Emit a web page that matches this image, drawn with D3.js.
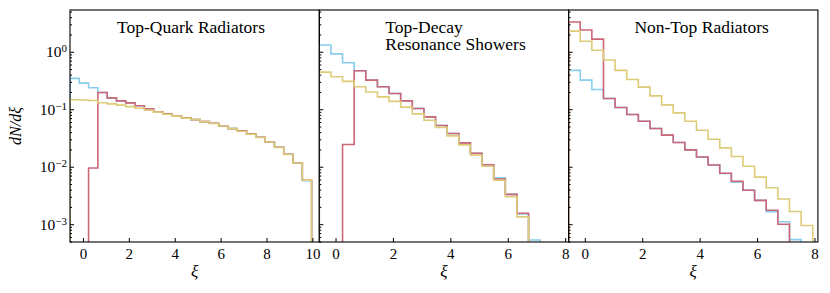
<!DOCTYPE html>
<html>
<head>
<meta charset="utf-8">
<script src="https://cdn.jsdelivr.net/npm/d3@7"></script>
<style>
  body { margin: 0; background: #fff; }
</style>
</head>
<body>
<div id="chart"></div>
<script>
(function () {

  // bin edges for xi (same binning in every panel)
  const binEdges = [-0.565, -0.16, 0.245, 0.65, 1.055, 1.46, 1.865, 2.27, 2.675, 3.08,
    3.485, 3.89, 4.295, 4.7, 5.105, 5.51, 5.915, 6.32, 6.725, 7.13,
    7.535, 7.94, 8.345, 8.75, 9.155, 9.56, 9.965]

  const panelTitles = [['Top-Quark Radiators'], ['Top-Decay', 'Resonance Showers'], ['Non-Top Radiators']]
  const xTickValues = [[0, 2, 4, 6, 8, 10], [0, 2, 4, 6, 8], [0, 2, 4, 6, 8]]
  const xMax = [10.3, 8.12, 8.12]
  const yMajorTicks = [1e-3, 1e-2, 1e-1, 1e0]
  const yTickLabels = ['−3', '−2', '−1', '0']

  // dN/dxi per bin, one array per panel and per curve
  const topQuarkBlue = [0.344, 0.285, 0.236, 0.195, 0.158, 0.140, 0.129, 0.115, 0.102, 0.090, 0.083, 0.077, 0.071,
    0.066, 0.061, 0.057, 0.051, 0.046, 0.042, 0.037, 0.0325, 0.027, 0.0218, 0.0165, 0.0116, 0.0057]
  const topQuarkRed = [0, 0, 0.0095, 0.196, 0.158, 0.140, 0.129, 0.115, 0.102, 0.090, 0.083, 0.077, 0.071,
    0.066, 0.061, 0.057, 0.051, 0.046, 0.042, 0.037, 0.0325, 0.027, 0.0218, 0.0165, 0.0117, 0.0058]
  const topQuarkYellow = [0.146, 0.145, 0.142, 0.130, 0.124, 0.118, 0.111, 0.104, 0.096, 0.089, 0.082, 0.076, 0.070,
    0.066, 0.061, 0.0565, 0.051, 0.046, 0.0415, 0.0368, 0.0322, 0.027, 0.0216, 0.0163, 0.0116, 0.0058]

  const decayBlue = [1.31, 0.92, 0.645, 0.467, 0.321, 0.246, 0.188, 0.140, 0.103, 0.0738, 0.052, 0.0378, 0.026,
    0.0172, 0.0108, 0.0064, 0.0033, 0.0015, 0.00053, 0, 0, 0, 0, 0, 0, 0]
  const decayRed = [0, 0, 0.0243, 0.467, 0.321, 0.246, 0.188, 0.140, 0.103, 0.0738, 0.052, 0.0378, 0.026,
    0.0172, 0.0108, 0.0061, 0.0033, 0.00155, 0, 0, 0, 0, 0, 0, 0, 0]
  const decayYellow = [0.443, 0.367, 0.305, 0.246, 0.199, 0.164, 0.137, 0.109, 0.083, 0.0645, 0.048, 0.0344, 0.024,
    0.0159, 0.0102, 0.0058, 0.0030, 0.00134, 0, 0, 0, 0, 0, 0, 0, 0]

  const nonTopBlue = [0.474, 0.321, 0.221, 0.154, 0.107, 0.081, 0.062, 0.0462, 0.0354, 0.0264, 0.0194, 0.0148, 0.0107,
    0.0076, 0.0054, 0.0039, 0.0026, 0.00165, 0.0011, 0.00054, 0, 0, 0, 0, 0, 0]
  const nonTopRed = [3.29, 2.39, 1.66, 0.154, 0.107, 0.081, 0.062, 0.0462, 0.0354, 0.0264, 0.0196, 0.0148, 0.0107,
    0.0077, 0.0056, 0.0039, 0.0026, 0.00175, 0.0010, 0, 0, 0, 0, 0, 0, 0]
  const nonTopYellow = [2.29, 1.52, 1.06, 0.717, 0.474, 0.33, 0.243, 0.171, 0.119, 0.0865, 0.062, 0.0432, 0.0301,
    0.0213, 0.0151, 0.0102, 0.0066, 0.0043, 0.00275, 0.00166, 0.00095, 0, 0, 0, 0, 0]

  const panels = [
    [topQuarkBlue, topQuarkRed, topQuarkYellow],
    [decayBlue, decayRed, decayYellow],
    [nonTopBlue, nonTopRed, nonTopYellow]
  ]
  const colors = ['#88CCEE', '#CC6677', '#DDCC77']

  const serif = "'Liberation Serif'"

  const margin = { top: 10, left: 70 }
  const panelWidth = 249.3
  const plotHeight = 232

  const svg = d3.select('#chart').append('svg')
    .attr('width', 830)
    .attr('height', 293)

  const yPositionScale = d3.scaleLog()
    .domain([4.9e-4, 5.33])
    .range([plotHeight, 0])

  const yMinorTicks = []
  yMajorTicks.concat([1e-4]).forEach(p => {
    for (let m = 2; m <= 9; m++) {
      const v = p * m
      if (v >= 4.9e-4 && v <= 5.33) yMinorTicks.push(v)
    }
  })

  // title placement inside each panel
  const titleLayout = [
    { x: 121, anchor: 'middle' },
    { x: 66, anchor: 'start' },
    { x: 133, anchor: 'middle' }
  ]

  panels.forEach((series, i) => {
    const g = svg.append('g')
      .attr('transform', 'translate(' + (margin.left + i * panelWidth) + ',' + margin.top + ')')

    const xPositionScale = d3.scaleLinear()
      .domain([binEdges[0], xMax[i]])
      .range([0, panelWidth])

    g.append('clipPath')
      .attr('id', 'clip-' + i)
      .append('rect')
      .attr('width', panelWidth)
      .attr('height', plotHeight)

    const line = d3.line()
      .x(d => xPositionScale(d[0]))
      .y(d => yPositionScale(d[1] > 0 ? d[1] : 1e-6))

    series.forEach((values, j) => {
      const pts = [[binEdges[0], 0]]
      values.forEach((v, k) => {
        pts.push([binEdges[k], v])
        pts.push([binEdges[k + 1], v])
      })
      pts.push([binEdges[values.length], 0])

      g.append('path')
        .attr('clip-path', 'url(#clip-' + i + ')')
        .attr('d', line(pts))
        .attr('fill', 'none')
        .attr('stroke', colors[j])
        .attr('stroke-width', 1.6)
    })

    // x axis, ticks pointing in
    const xAxis = d3.axisBottom(xPositionScale)
      .tickValues(xTickValues[i])
      .tickSize(-4)
      .tickPadding(6)
      .tickFormat(d3.format('d'))
    const xg = g.append('g')
      .attr('transform', 'translate(0,' + plotHeight + ')')
      .call(xAxis)
    xg.select('.domain').remove()
    xg.selectAll('text').style('font-family', serif).style('font-size', '15px')

    // y axis minor + major
    const yMinor = g.append('g')
      .call(d3.axisLeft(yPositionScale).tickValues(yMinorTicks).tickSize(-2).tickFormat(''))
    yMinor.select('.domain').remove()

    const yg = g.append('g')
      .call(d3.axisLeft(yPositionScale).tickValues(yMajorTicks).tickSize(-4).tickPadding(3).tickFormat(''))
    yg.select('.domain').remove()

    if (i === 0) {
      yg.selectAll('.tick text')
        .style('font-family', serif)
        .style('font-size', '15.5px')
        .each(function (d, k) {
          const t = d3.select(this)
          t.append('tspan').text('10')
          t.append('tspan')
            .attr('dy', '-0.45em')
            .style('font-size', '11px')
            .text(yTickLabels[k])
        })
    }

    g.selectAll('.tick line').attr('stroke', '#000')

    g.append('rect')
      .attr('width', panelWidth)
      .attr('height', plotHeight)
      .attr('fill', 'none')
      .attr('stroke', '#000')
      .attr('stroke-width', 1.1)

    const title = g.append('text')
      .attr('x', titleLayout[i].x)
      .attr('y', 23.3)
      .attr('text-anchor', titleLayout[i].anchor)
      .style('font-family', serif)
      .style('font-size', '17.5px')
      .attr('fill', '#000')
    panelTitles[i].forEach((s, k) => {
      title.append('tspan')
        .attr('x', titleLayout[i].x)
        .attr('dy', k === 0 ? 0 : 16.5)
        .text(s)
    })

    g.append('text')
      .attr('x', panelWidth / 2)
      .attr('y', 267)
      .attr('text-anchor', 'middle')
      .style('font-family', serif)
      .style('font-size', '17px')
      .style('font-style', 'italic')
      .text('ξ')
  })

  svg.append('text')
    .attr('transform', 'translate(21,126) rotate(-90)')
    .attr('text-anchor', 'middle')
    .style('font-family', serif)
    .style('font-size', '16px')
    .style('font-style', 'italic')
    .text('dN/dξ')

})();
</script>
</body>
</html>
